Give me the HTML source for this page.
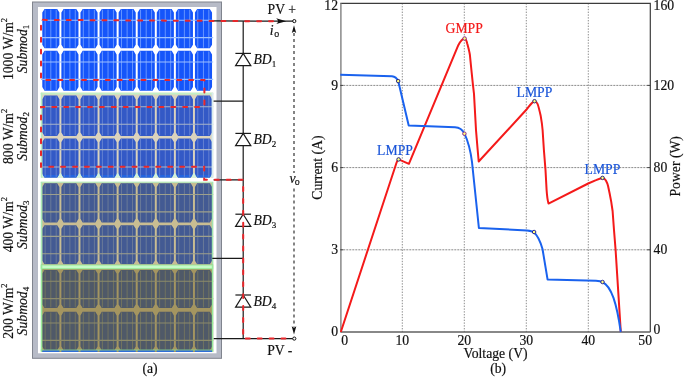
<!DOCTYPE html>
<html><head><meta charset="utf-8"><style>
html,body{margin:0;padding:0;background:#fff;}
body{width:685px;height:378px;overflow:hidden;}
svg{display:block;will-change:transform;}
text{font-family:"Liberation Serif",serif;fill:#111;stroke:#111;stroke-width:0.18px;}
</style></head><body>
<svg width="685" height="378" viewBox="0 0 685 378">
<rect x="32.5" y="2" width="189" height="356.3" fill="#b7bbc7" stroke="#80848e" stroke-width="1"/>
<rect x="38" y="7" width="178.5" height="346.3" fill="#ffffff"/>
<rect x="41.00" y="7.80" width="172.20" height="84.00" fill="#ffffff"/>
<path d="M44.50,9.00H57.20L59.40,12.60V44.70L57.20,48.30H44.50L42.30,44.70V12.60ZM63.58,9.00H76.28L78.48,12.60V44.70L76.28,48.30H63.58L61.38,44.70V12.60ZM82.66,9.00H95.36L97.56,12.60V44.70L95.36,48.30H82.66L80.46,44.70V12.60ZM101.74,9.00H114.44L116.64,12.60V44.70L114.44,48.30H101.74L99.54,44.70V12.60ZM120.82,9.00H133.52L135.72,12.60V44.70L133.52,48.30H120.82L118.62,44.70V12.60ZM139.90,9.00H152.60L154.80,12.60V44.70L152.60,48.30H139.90L137.70,44.70V12.60ZM158.98,9.00H171.68L173.88,12.60V44.70L171.68,48.30H158.98L156.78,44.70V12.60ZM178.06,9.00H190.76L192.96,12.60V44.70L190.76,48.30H178.06L175.86,44.70V12.60ZM197.14,9.00H209.84L212.04,12.60V44.70L209.84,48.30H197.14L194.94,44.70V12.60ZM44.50,50.80H57.20L59.40,54.40V87.10L57.20,90.70H44.50L42.30,87.10V54.40ZM63.58,50.80H76.28L78.48,54.40V87.10L76.28,90.70H63.58L61.38,87.10V54.40ZM82.66,50.80H95.36L97.56,54.40V87.10L95.36,90.70H82.66L80.46,87.10V54.40ZM101.74,50.80H114.44L116.64,54.40V87.10L114.44,90.70H101.74L99.54,87.10V54.40ZM120.82,50.80H133.52L135.72,54.40V87.10L133.52,90.70H120.82L118.62,87.10V54.40ZM139.90,50.80H152.60L154.80,54.40V87.10L152.60,90.70H139.90L137.70,87.10V54.40ZM158.98,50.80H171.68L173.88,54.40V87.10L171.68,90.70H158.98L156.78,87.10V54.40ZM178.06,50.80H190.76L192.96,54.40V87.10L190.76,90.70H178.06L175.86,87.10V54.40ZM197.14,50.80H209.84L212.04,54.40V87.10L209.84,90.70H197.14L194.94,87.10V54.40Z" fill="#1555fa"/>
<path d="M45.15,9.60V47.70M50.80,9.60V47.70M56.20,9.60V47.70M64.23,9.60V47.70M69.88,9.60V47.70M75.28,9.60V47.70M83.31,9.60V47.70M88.96,9.60V47.70M94.36,9.60V47.70M102.39,9.60V47.70M108.04,9.60V47.70M113.44,9.60V47.70M121.47,9.60V47.70M127.12,9.60V47.70M132.52,9.60V47.70M140.55,9.60V47.70M146.20,9.60V47.70M151.60,9.60V47.70M159.63,9.60V47.70M165.28,9.60V47.70M170.68,9.60V47.70M178.71,9.60V47.70M184.36,9.60V47.70M189.76,9.60V47.70M197.79,9.60V47.70M203.44,9.60V47.70M208.84,9.60V47.70M45.15,51.40V90.10M50.80,51.40V90.10M56.20,51.40V90.10M64.23,51.40V90.10M69.88,51.40V90.10M75.28,51.40V90.10M83.31,51.40V90.10M88.96,51.40V90.10M94.36,51.40V90.10M102.39,51.40V90.10M108.04,51.40V90.10M113.44,51.40V90.10M121.47,51.40V90.10M127.12,51.40V90.10M132.52,51.40V90.10M140.55,51.40V90.10M146.20,51.40V90.10M151.60,51.40V90.10M159.63,51.40V90.10M165.28,51.40V90.10M170.68,51.40V90.10M178.71,51.40V90.10M184.36,51.40V90.10M189.76,51.40V90.10M197.79,51.40V90.10M203.44,51.40V90.10M208.84,51.40V90.10" stroke="#6e9cff" stroke-width="0.9" fill="none"/>
<path d="M41.00,20.20H213.20M41.00,37.60H213.20M41.00,62.00H213.20M41.00,79.40H213.20" stroke="#9cc0ff" stroke-width="1.1" fill="none"/>
<rect x="41.00" y="92.70" width="172.20" height="84.90" fill="#dbd3bd"/>
<rect x="41.0" y="173.2" width="172.2" height="4.4" fill="#d4f2da"/>
<path d="M44.50,95.60H57.20L59.40,99.20V132.40L57.20,136.00H44.50L42.30,132.40V99.20ZM63.58,95.60H76.28L78.48,99.20V132.40L76.28,136.00H63.58L61.38,132.40V99.20ZM82.66,95.60H95.36L97.56,99.20V132.40L95.36,136.00H82.66L80.46,132.40V99.20ZM101.74,95.60H114.44L116.64,99.20V132.40L114.44,136.00H101.74L99.54,132.40V99.20ZM120.82,95.60H133.52L135.72,99.20V132.40L133.52,136.00H120.82L118.62,132.40V99.20ZM139.90,95.60H152.60L154.80,99.20V132.40L152.60,136.00H139.90L137.70,132.40V99.20ZM158.98,95.60H171.68L173.88,99.20V132.40L171.68,136.00H158.98L156.78,132.40V99.20ZM178.06,95.60H190.76L192.96,99.20V132.40L190.76,136.00H178.06L175.86,132.40V99.20ZM197.14,95.60H209.84L212.04,99.20V132.40L209.84,136.00H197.14L194.94,132.40V99.20ZM44.50,138.40H57.20L59.40,142.00V173.90L57.20,177.50H44.50L42.30,173.90V142.00ZM63.58,138.40H76.28L78.48,142.00V173.90L76.28,177.50H63.58L61.38,173.90V142.00ZM82.66,138.40H95.36L97.56,142.00V173.90L95.36,177.50H82.66L80.46,173.90V142.00ZM101.74,138.40H114.44L116.64,142.00V173.90L114.44,177.50H101.74L99.54,173.90V142.00ZM120.82,138.40H133.52L135.72,142.00V173.90L133.52,177.50H120.82L118.62,173.90V142.00ZM139.90,138.40H152.60L154.80,142.00V173.90L152.60,177.50H139.90L137.70,173.90V142.00ZM158.98,138.40H171.68L173.88,142.00V173.90L171.68,177.50H158.98L156.78,173.90V142.00ZM178.06,138.40H190.76L192.96,142.00V173.90L190.76,177.50H178.06L175.86,173.90V142.00ZM197.14,138.40H209.84L212.04,142.00V173.90L209.84,177.50H197.14L194.94,173.90V142.00Z" fill="#3359c6"/>
<path d="M42.91,174.90H58.79L57.20,177.50H44.50ZM61.99,174.90H77.87L76.28,177.50H63.58ZM81.07,174.90H96.95L95.36,177.50H82.66ZM100.15,174.90H116.03L114.44,177.50H101.74ZM119.23,174.90H135.11L133.52,177.50H120.82ZM138.31,174.90H154.19L152.60,177.50H139.90ZM157.39,174.90H173.27L171.68,177.50H158.98ZM176.47,174.90H192.35L190.76,177.50H178.06ZM195.55,174.90H211.43L209.84,177.50H197.14Z" fill="#2464e0"/>
<path d="M45.15,96.20V135.40M50.80,96.20V135.40M56.20,96.20V135.40M64.23,96.20V135.40M69.88,96.20V135.40M75.28,96.20V135.40M83.31,96.20V135.40M88.96,96.20V135.40M94.36,96.20V135.40M102.39,96.20V135.40M108.04,96.20V135.40M113.44,96.20V135.40M121.47,96.20V135.40M127.12,96.20V135.40M132.52,96.20V135.40M140.55,96.20V135.40M146.20,96.20V135.40M151.60,96.20V135.40M159.63,96.20V135.40M165.28,96.20V135.40M170.68,96.20V135.40M178.71,96.20V135.40M184.36,96.20V135.40M189.76,96.20V135.40M197.79,96.20V135.40M203.44,96.20V135.40M208.84,96.20V135.40M45.15,139.00V176.90M50.80,139.00V176.90M56.20,139.00V176.90M64.23,139.00V176.90M69.88,139.00V176.90M75.28,139.00V176.90M83.31,139.00V176.90M88.96,139.00V176.90M94.36,139.00V176.90M102.39,139.00V176.90M108.04,139.00V176.90M113.44,139.00V176.90M121.47,139.00V176.90M127.12,139.00V176.90M132.52,139.00V176.90M140.55,139.00V176.90M146.20,139.00V176.90M151.60,139.00V176.90M159.63,139.00V176.90M165.28,139.00V176.90M170.68,139.00V176.90M178.71,139.00V176.90M184.36,139.00V176.90M189.76,139.00V176.90M197.79,139.00V176.90M203.44,139.00V176.90M208.84,139.00V176.90" stroke="#6a86d4" stroke-width="0.9" fill="none"/>
<path d="M41.00,106.80H213.20M41.00,124.20H213.20M41.00,149.60H213.20M41.00,167.00H213.20" stroke="#a8b4c8" stroke-width="1.1" fill="none"/>
<rect x="40.7" y="92.7" width="172.5" height="1.8" fill="#c2f0c6"/>
<rect x="40.7" y="92.7" width="1.6" height="84.9" fill="#b8ecc0"/>
<rect x="211.6" y="92.7" width="1.6" height="84.9" fill="#d8ecf0"/>
<rect x="41.00" y="182.20" width="172.20" height="82.60" fill="#c9bd92"/>
<path d="M44.50,183.30H57.20L59.40,186.90V218.80L57.20,222.40H44.50L42.30,218.80V186.90ZM63.58,183.30H76.28L78.48,186.90V218.80L76.28,222.40H63.58L61.38,218.80V186.90ZM82.66,183.30H95.36L97.56,186.90V218.80L95.36,222.40H82.66L80.46,218.80V186.90ZM101.74,183.30H114.44L116.64,186.90V218.80L114.44,222.40H101.74L99.54,218.80V186.90ZM120.82,183.30H133.52L135.72,186.90V218.80L133.52,222.40H120.82L118.62,218.80V186.90ZM139.90,183.30H152.60L154.80,186.90V218.80L152.60,222.40H139.90L137.70,218.80V186.90ZM158.98,183.30H171.68L173.88,186.90V218.80L171.68,222.40H158.98L156.78,218.80V186.90ZM178.06,183.30H190.76L192.96,186.90V218.80L190.76,222.40H178.06L175.86,218.80V186.90ZM197.14,183.30H209.84L212.04,186.90V218.80L209.84,222.40H197.14L194.94,218.80V186.90ZM44.50,225.20H57.20L59.40,228.80V260.70L57.20,264.30H44.50L42.30,260.70V228.80ZM63.58,225.20H76.28L78.48,228.80V260.70L76.28,264.30H63.58L61.38,260.70V228.80ZM82.66,225.20H95.36L97.56,228.80V260.70L95.36,264.30H82.66L80.46,260.70V228.80ZM101.74,225.20H114.44L116.64,228.80V260.70L114.44,264.30H101.74L99.54,260.70V228.80ZM120.82,225.20H133.52L135.72,228.80V260.70L133.52,264.30H120.82L118.62,260.70V228.80ZM139.90,225.20H152.60L154.80,228.80V260.70L152.60,264.30H139.90L137.70,260.70V228.80ZM158.98,225.20H171.68L173.88,228.80V260.70L171.68,264.30H158.98L156.78,260.70V228.80ZM178.06,225.20H190.76L192.96,228.80V260.70L190.76,264.30H178.06L175.86,260.70V228.80ZM197.14,225.20H209.84L212.04,228.80V260.70L209.84,264.30H197.14L194.94,260.70V228.80Z" fill="#435a93"/>
<path d="M45.15,183.90V221.80M50.80,183.90V221.80M56.20,183.90V221.80M64.23,183.90V221.80M69.88,183.90V221.80M75.28,183.90V221.80M83.31,183.90V221.80M88.96,183.90V221.80M94.36,183.90V221.80M102.39,183.90V221.80M108.04,183.90V221.80M113.44,183.90V221.80M121.47,183.90V221.80M127.12,183.90V221.80M132.52,183.90V221.80M140.55,183.90V221.80M146.20,183.90V221.80M151.60,183.90V221.80M159.63,183.90V221.80M165.28,183.90V221.80M170.68,183.90V221.80M178.71,183.90V221.80M184.36,183.90V221.80M189.76,183.90V221.80M197.79,183.90V221.80M203.44,183.90V221.80M208.84,183.90V221.80M45.15,225.80V263.70M50.80,225.80V263.70M56.20,225.80V263.70M64.23,225.80V263.70M69.88,225.80V263.70M75.28,225.80V263.70M83.31,225.80V263.70M88.96,225.80V263.70M94.36,225.80V263.70M102.39,225.80V263.70M108.04,225.80V263.70M113.44,225.80V263.70M121.47,225.80V263.70M127.12,225.80V263.70M132.52,225.80V263.70M140.55,225.80V263.70M146.20,225.80V263.70M151.60,225.80V263.70M159.63,225.80V263.70M165.28,225.80V263.70M170.68,225.80V263.70M178.71,225.80V263.70M184.36,225.80V263.70M189.76,225.80V263.70M197.79,225.80V263.70M203.44,225.80V263.70M208.84,225.80V263.70" stroke="#6e7e9a" stroke-width="0.9" fill="none"/>
<path d="M41.00,194.50H213.20M41.00,211.90H213.20M41.00,236.40H213.20M41.00,253.80H213.20" stroke="#9ea08c" stroke-width="1.1" fill="none"/>
<rect x="40.7" y="181.6" width="172.5" height="1.2" fill="#b4ecbc"/>
<rect x="40.7" y="182.2" width="1.6" height="82.6" fill="#a8e8b4"/>
<rect x="211.8" y="182.2" width="1.4" height="82.6" fill="#a0e4b0"/>
<rect x="41.00" y="264.60" width="172.20" height="87.40" fill="#a49560"/>
<path d="M44.50,270.00H57.20L59.40,273.60V304.40L57.20,308.00H44.50L42.30,304.40V273.60ZM63.58,270.00H76.28L78.48,273.60V304.40L76.28,308.00H63.58L61.38,304.40V273.60ZM82.66,270.00H95.36L97.56,273.60V304.40L95.36,308.00H82.66L80.46,304.40V273.60ZM101.74,270.00H114.44L116.64,273.60V304.40L114.44,308.00H101.74L99.54,304.40V273.60ZM120.82,270.00H133.52L135.72,273.60V304.40L133.52,308.00H120.82L118.62,304.40V273.60ZM139.90,270.00H152.60L154.80,273.60V304.40L152.60,308.00H139.90L137.70,304.40V273.60ZM158.98,270.00H171.68L173.88,273.60V304.40L171.68,308.00H158.98L156.78,304.40V273.60ZM178.06,270.00H190.76L192.96,273.60V304.40L190.76,308.00H178.06L175.86,304.40V273.60ZM197.14,270.00H209.84L212.04,273.60V304.40L209.84,308.00H197.14L194.94,304.40V273.60ZM44.50,311.80H57.20L59.40,315.40V346.60L57.20,350.20H44.50L42.30,346.60V315.40ZM63.58,311.80H76.28L78.48,315.40V346.60L76.28,350.20H63.58L61.38,346.60V315.40ZM82.66,311.80H95.36L97.56,315.40V346.60L95.36,350.20H82.66L80.46,346.60V315.40ZM101.74,311.80H114.44L116.64,315.40V346.60L114.44,350.20H101.74L99.54,346.60V315.40ZM120.82,311.80H133.52L135.72,315.40V346.60L133.52,350.20H120.82L118.62,346.60V315.40ZM139.90,311.80H152.60L154.80,315.40V346.60L152.60,350.20H139.90L137.70,346.60V315.40ZM158.98,311.80H171.68L173.88,315.40V346.60L171.68,350.20H158.98L156.78,346.60V315.40ZM178.06,311.80H190.76L192.96,315.40V346.60L190.76,350.20H178.06L175.86,346.60V315.40ZM197.14,311.80H209.84L212.04,315.40V346.60L209.84,350.20H197.14L194.94,346.60V315.40Z" fill="#4f5968"/>
<path d="M45.15,270.60V307.40M50.80,270.60V307.40M56.20,270.60V307.40M64.23,270.60V307.40M69.88,270.60V307.40M75.28,270.60V307.40M83.31,270.60V307.40M88.96,270.60V307.40M94.36,270.60V307.40M102.39,270.60V307.40M108.04,270.60V307.40M113.44,270.60V307.40M121.47,270.60V307.40M127.12,270.60V307.40M132.52,270.60V307.40M140.55,270.60V307.40M146.20,270.60V307.40M151.60,270.60V307.40M159.63,270.60V307.40M165.28,270.60V307.40M170.68,270.60V307.40M178.71,270.60V307.40M184.36,270.60V307.40M189.76,270.60V307.40M197.79,270.60V307.40M203.44,270.60V307.40M208.84,270.60V307.40M45.15,312.40V349.60M50.80,312.40V349.60M56.20,312.40V349.60M64.23,312.40V349.60M69.88,312.40V349.60M75.28,312.40V349.60M83.31,312.40V349.60M88.96,312.40V349.60M94.36,312.40V349.60M102.39,312.40V349.60M108.04,312.40V349.60M113.44,312.40V349.60M121.47,312.40V349.60M127.12,312.40V349.60M132.52,312.40V349.60M140.55,312.40V349.60M146.20,312.40V349.60M151.60,312.40V349.60M159.63,312.40V349.60M165.28,312.40V349.60M170.68,312.40V349.60M178.71,312.40V349.60M184.36,312.40V349.60M189.76,312.40V349.60M197.79,312.40V349.60M203.44,312.40V349.60M208.84,312.40V349.60" stroke="#75765f" stroke-width="0.9" fill="none"/>
<path d="M41.00,281.20H213.20M41.00,298.60H213.20M41.00,323.00H213.20M41.00,340.40H213.20" stroke="#8c8a6a" stroke-width="1.1" fill="none"/>
<rect x="40.7" y="264.6" width="172.5" height="4.6" fill="#9eec9e"/>
<rect x="40.7" y="265.6" width="172.5" height="2.4" fill="#c8fac8"/>
<rect x="40.7" y="264.6" width="1.6" height="87.4" fill="#98ea9c"/>
<rect x="211.8" y="264.6" width="1.4" height="87.4" fill="#98ea9c"/>
<rect x="40.7" y="349.6" width="172.5" height="1.0" fill="#88dc98"/>
<path d="M42.30,350.60H59.40V351.90H42.30ZM61.38,350.60H78.48V351.90H61.38ZM80.46,350.60H97.56V351.90H80.46ZM99.54,350.60H116.64V351.90H99.54ZM118.62,350.60H135.72V351.90H118.62ZM137.70,350.60H154.80V351.90H137.70ZM156.78,350.60H173.88V351.90H156.78ZM175.86,350.60H192.96V351.90H175.86ZM194.94,350.60H212.04V351.90H194.94Z" fill="#2f6fd8"/>
<path d="M213.5,20.95L294.3,21.2M243.2,21.1V338.6M213.6,101.2H243.2M213.6,179.8H243.2M212.3,258.3H243.2M213.7,338.6H294.3" stroke="#1a1a1a" stroke-width="1.2" fill="none"/>
<path d="M243.2,53.4L250.8,65.6H235.6Z" fill="#fff" stroke="#1a1a1a" stroke-width="1.2" stroke-linejoin="miter"/>
<path d="M235.4,53.4H251.0" stroke="#1a1a1a" stroke-width="1.2"/>
<path d="M243.2,133.4L250.8,145.6H235.6Z" fill="#fff" stroke="#1a1a1a" stroke-width="1.2" stroke-linejoin="miter"/>
<path d="M235.4,133.4H251.0" stroke="#1a1a1a" stroke-width="1.2"/>
<path d="M243.2,214.2L250.8,226.4H235.6Z" fill="#fff" stroke="#1a1a1a" stroke-width="1.2" stroke-linejoin="miter"/>
<path d="M235.4,214.2H251.0" stroke="#1a1a1a" stroke-width="1.2"/>
<path d="M243.2,295.0L250.8,307.2H235.6Z" fill="#fff" stroke="#1a1a1a" stroke-width="1.2" stroke-linejoin="miter"/>
<path d="M235.4,295.0H251.0" stroke="#1a1a1a" stroke-width="1.2"/>
<path d="M273,21.3L41,19.85V80H204.4V107H41V166.8H204.2V179.7H243.2V338.6" stroke="#e8262a" stroke-width="2.0" fill="none" stroke-dasharray="3.95 7.95" stroke-linecap="round" stroke-dashoffset="0"/>
<path d="M243.2,338.6H291" stroke="#e8262a" stroke-width="2.0" fill="none" stroke-dasharray="3.95 7.95" stroke-linecap="round" stroke-dashoffset="9.3"/>
<path d="M286.2,21.15L276.2,18.2Q279.8,21.15 276.2,24.1Z" fill="#111"/>
<circle cx="294.3" cy="21.1" r="1.6" fill="#fff" stroke="#111" stroke-width="1"/>
<circle cx="294.3" cy="338.6" r="1.6" fill="#fff" stroke="#111" stroke-width="1"/>
<path d="M294,33V173M294,188.5V327" stroke="#333" stroke-width="1.2" stroke-dasharray="3 3" fill="none"/>
<path d="M294,25.2L296.2,33L294,31.4L291.8,33Z" fill="#111"/>
<path d="M294,334.4L291.7,326.2L294,327.8L296.3,326.2Z" fill="#111"/>
<text x="267.6" y="13.6" font-family="Liberation Serif" font-size="13.7">PV +</text>
<text x="267.2" y="354.9" font-family="Liberation Serif" font-size="13.7">PV -</text>
<text x="150" y="373" font-family="Liberation Serif" font-size="13.7" text-anchor="middle">(a)</text>
<text x="269.8" y="34.5" font-family="Liberation Serif" font-size="13.7" font-style="italic">i<tspan font-size="10" font-style="normal" dy="2.9" dx="0.6">o</tspan></text>
<text x="289.6" y="182.6" font-family="Liberation Serif" font-size="13.7" font-style="italic">v<tspan font-size="10" font-style="normal" dy="2.4" dx="-0.9">o</tspan></text>
<text x="253.4" y="63.7" font-family="Liberation Serif" font-size="13.7" font-style="italic">BD<tspan font-size="9" font-style="normal" dy="2.8">1</tspan></text>
<text x="253.4" y="144.4" font-family="Liberation Serif" font-size="13.7" font-style="italic">BD<tspan font-size="9" font-style="normal" dy="2.8">2</tspan></text>
<text x="253.4" y="225.4" font-family="Liberation Serif" font-size="13.7" font-style="italic">BD<tspan font-size="9" font-style="normal" dy="2.8">3</tspan></text>
<text x="253.4" y="306.4" font-family="Liberation Serif" font-size="13.7" font-style="italic">BD<tspan font-size="9" font-style="normal" dy="2.8">4</tspan></text>
<g transform="translate(12.7,49.0) rotate(-90)"><text x="0" y="0" font-family="Liberation Serif" font-size="13.7" text-anchor="middle">1000 W/m<tspan font-size="8.5" dy="-6.2">2</tspan></text></g>
<g transform="translate(26.5,49.0) rotate(-90)"><text x="0" y="0" font-family="Liberation Serif" font-size="13.7" text-anchor="middle" font-style="italic">Submod<tspan font-size="9" font-style="normal" dy="2.8">1</tspan></text></g>
<g transform="translate(12.7,136.4) rotate(-90)"><text x="0" y="0" font-family="Liberation Serif" font-size="13.7" text-anchor="middle">800 W/m<tspan font-size="8.5" dy="-6.2">2</tspan></text></g>
<g transform="translate(26.5,136.4) rotate(-90)"><text x="0" y="0" font-family="Liberation Serif" font-size="13.7" text-anchor="middle" font-style="italic">Submod<tspan font-size="9" font-style="normal" dy="2.8">2</tspan></text></g>
<g transform="translate(12.7,224.7) rotate(-90)"><text x="0" y="0" font-family="Liberation Serif" font-size="13.7" text-anchor="middle">400 W/m<tspan font-size="8.5" dy="-6.2">2</tspan></text></g>
<g transform="translate(26.5,224.7) rotate(-90)"><text x="0" y="0" font-family="Liberation Serif" font-size="13.7" text-anchor="middle" font-style="italic">Submod<tspan font-size="9" font-style="normal" dy="2.8">3</tspan></text></g>
<g transform="translate(12.7,311.1) rotate(-90)"><text x="0" y="0" font-family="Liberation Serif" font-size="13.7" text-anchor="middle">200 W/m<tspan font-size="8.5" dy="-6.2">2</tspan></text></g>
<g transform="translate(26.5,311.1) rotate(-90)"><text x="0" y="0" font-family="Liberation Serif" font-size="13.7" text-anchor="middle" font-style="italic">Submod<tspan font-size="9" font-style="normal" dy="2.8">4</tspan></text></g>
<path d="M402.30,3.20V332.00M464.30,3.20V332.00M526.30,3.20V332.00M588.30,3.20V332.00" stroke="#808080" stroke-width="0.9" stroke-dasharray="1.4 1.4" fill="none"/>
<path d="M340.30,249.80H650.30M340.30,167.60H650.30M340.30,85.40H650.30" stroke="#8a8a8a" stroke-width="1" stroke-dasharray="2 1" fill="none"/>
<path d="M340.30,3.40H650.30V332.00" stroke="#3c3c3c" stroke-width="1.2" fill="none"/>
<path d="M340.90,3.20V332.00" stroke="#808080" stroke-width="1.4" fill="none"/>
<path d="M340.30,332.00H650.30" stroke="#606060" stroke-width="1.4" fill="none"/>
<path d="M340.30,249.80h3M650.30,249.80h-3M340.30,167.60h3M650.30,167.60h-3M340.30,85.40h3M650.30,85.40h-3" stroke="#444" stroke-width="1" fill="none"/>
<path d="M340.8,332 L396.6,162.5 C397.2,161 397.8,160 398.6,159.4 L408.9,163.8 L458.3,45.2 C460.2,41.5 462.5,38.6 464.6,38.4 C466,39 466.6,40.5 467.2,43.5 C468,46.5 469.3,51 469.9,55 L471.4,70 L473,85.4 L474,94 L475,112 L476,130 L477.5,148 L478.7,161.5 L526.3,109.8 C529.5,106 532,102 534.5,101.3 C536,101.4 537,102.5 537.6,104 C538.6,106.5 539.6,111 540.7,115.9 C541.6,121 542.3,126 542.6,130 L543.9,150 L545.5,170 L546.6,190 C547,196 547.5,200 548.5,203.6 L588.2,183.5 L596,180.2 C598.5,179 600.5,178.2 602.4,178 C604,178.2 605.2,179.2 605.9,180.5 C607,182.5 607.6,184 608,185.8 L609.6,193.2 L611.2,201.6 L612.6,211 L614,230 L615.6,250 L620.8,332" stroke="#f41a1a" stroke-width="2" fill="none" stroke-linejoin="round"/>
<path d="M340.3,74.8 L392,76.3 C395,76.6 397,78.5 398.2,81.1 L408.7,125.6 L455,127.2 C459,127.4 462.5,129.5 464.5,133.6 C467.5,140 470.5,150 472,162 L478.9,228 L527,230.4 C530,230.7 532.5,231.2 533.9,232.2 C537,235 540,240 542.5,249 L547.6,279.6 L596,280.8 C599,281 601,281.3 602.4,282.2 C607,284 611,291 613.5,297.8 C616,305 618.5,316 620.8,332" stroke="#1a62ee" stroke-width="2" fill="none" stroke-linejoin="round"/>
<circle cx="398.2" cy="81.1" r="1.75" fill="#ffff78" stroke="#23237a" stroke-width="1.0"/>
<circle cx="464.4" cy="133.7" r="1.75" fill="#ffff78" stroke="#8a2a8a" stroke-width="1.0"/>
<circle cx="534.1" cy="232.0" r="1.75" fill="#ffff78" stroke="#26269a" stroke-width="1.0"/>
<circle cx="602.5" cy="282.0" r="1.75" fill="#ffff78" stroke="#26269a" stroke-width="1.0"/>
<circle cx="398.6" cy="159.4" r="1.75" fill="#ffff78" stroke="#23237a" stroke-width="1.0"/>
<circle cx="464.6" cy="38.5" r="1.75" fill="#ffff78" stroke="#8a2a8a" stroke-width="1.0"/>
<circle cx="534.5" cy="101.2" r="1.75" fill="#ffff78" stroke="#23237a" stroke-width="1.0"/>
<circle cx="602.5" cy="177.9" r="1.75" fill="#ffff78" stroke="#23237a" stroke-width="1.0"/>
<text x="338" y="335.50" font-family="Liberation Serif" font-size="13.7" text-anchor="end">0</text>
<text x="338" y="254.40" font-family="Liberation Serif" font-size="13.7" text-anchor="end">3</text>
<text x="338" y="172.20" font-family="Liberation Serif" font-size="13.7" text-anchor="end">6</text>
<text x="338" y="90.00" font-family="Liberation Serif" font-size="13.7" text-anchor="end">9</text>
<text x="338" y="9.90" font-family="Liberation Serif" font-size="13.7" text-anchor="end">12</text>
<text x="653.6" y="334.40" font-family="Liberation Serif" font-size="13.7">0</text>
<text x="653.6" y="254.40" font-family="Liberation Serif" font-size="13.7">40</text>
<text x="653.6" y="172.20" font-family="Liberation Serif" font-size="13.7">80</text>
<text x="653.6" y="90.00" font-family="Liberation Serif" font-size="13.7">120</text>
<text x="653.6" y="9.90" font-family="Liberation Serif" font-size="13.7">160</text>
<text x="402.30" y="344.8" font-family="Liberation Serif" font-size="13.7" text-anchor="middle">10</text>
<text x="464.30" y="344.8" font-family="Liberation Serif" font-size="13.7" text-anchor="middle">20</text>
<text x="526.30" y="344.8" font-family="Liberation Serif" font-size="13.7" text-anchor="middle">30</text>
<text x="588.30" y="344.8" font-family="Liberation Serif" font-size="13.7" text-anchor="middle">40</text>
<text x="341.3" y="344.8" font-family="Liberation Serif" font-size="13.7">0</text>
<text x="652" y="344.8" font-family="Liberation Serif" font-size="13.7" text-anchor="end">50</text>
<text x="495.6" y="357.6" font-family="Liberation Serif" font-size="13.7" text-anchor="middle">Voltage (V)</text>
<text x="498.2" y="373" font-family="Liberation Serif" font-size="13.7" text-anchor="middle">(b)</text>
<g transform="translate(322.2,167.6) rotate(-90)"><text x="0" y="0" font-family="Liberation Serif" font-size="13.7" text-anchor="middle">Current (A)</text></g>
<g transform="translate(680.2,166.3) rotate(-90)"><text x="0" y="0" font-family="Liberation Serif" font-size="13.7" text-anchor="middle">Power (W)</text></g>
<text x="464.2" y="32.6" font-family="Liberation Serif" font-size="13.7" style="fill:#f41a1a;stroke:#f41a1a" text-anchor="middle">GMPP</text>
<text x="395" y="154.6" font-family="Liberation Serif" font-size="13.7" style="fill:#1a55d8;stroke:#1a55d8" text-anchor="middle">LMPP</text>
<text x="534.4" y="97" font-family="Liberation Serif" font-size="13.7" style="fill:#1a55d8;stroke:#1a55d8" text-anchor="middle">LMPP</text>
<text x="602.4" y="173.8" font-family="Liberation Serif" font-size="13.7" style="fill:#1a55d8;stroke:#1a55d8" text-anchor="middle">LMPP</text>
</svg>
</body></html>
